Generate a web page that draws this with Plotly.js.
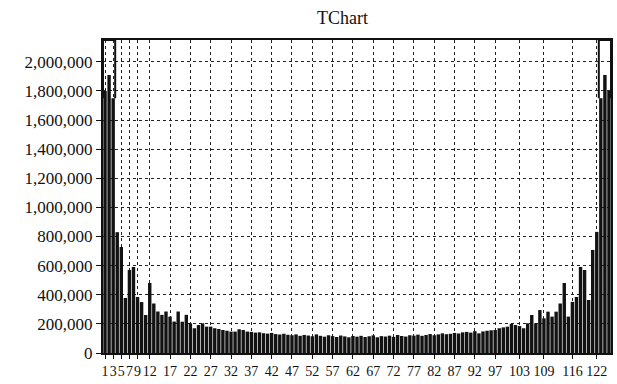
<!DOCTYPE html>
<html>
<head>
<meta charset="utf-8">
<script src="https://cdn.plot.ly/plotly-3.0.1.min.js"></script>
<style>
  html, body { margin: 0; padding: 0; background: #ffffff; }
  #chart { width: 617px; height: 384px; }
</style>
</head>
<body>
<div id="chart"></div>
<script>
// Bin numbers along the x axis
const bins = [
  1, 2, 3, 4, 5, 6, 7, 8, 9, 10, 11, 12, 13, 14, 15, 16, 17, 18, 19, 20,
  21, 22, 23, 24, 25, 26, 27, 28, 29, 30, 31, 32, 33, 34, 35, 36, 37, 38, 39, 40,
  41, 42, 43, 44, 45, 46, 47, 48, 49, 50, 51, 52, 53, 54, 55, 56, 57, 58, 59, 60,
  61, 62, 63, 64, 65, 66, 67, 68, 69, 70, 71, 72, 73, 74, 75, 76, 77, 78, 79, 80,
  81, 82, 83, 84, 85, 86, 87, 88, 89, 90, 91, 92, 93, 94, 95, 96, 97, 98, 99, 100,
  101, 102, 103, 104, 105, 106, 107, 108, 109, 110, 111, 112, 113, 114, 115, 116, 117, 118, 119, 120,
  121, 122, 123, 124, 125
];

// Count per bin
const counts = [
  1800000, 1910000, 1750000, 830000, 728000, 378000, 570000, 591000, 385000, 350000, 261000, 481000,
  340000, 285000, 262000, 285000, 250000, 216000, 285000, 215000, 262000, 204000, 170000, 192000,
  204000, 181000, 181000, 170000, 165000, 158000, 153000, 147000, 147000, 163000, 158000, 147000,
  145000, 140000, 142000, 136000, 133000, 138000, 130000, 127000, 132000, 125000, 122000, 128000,
  118000, 124000, 120000, 115000, 128000, 118000, 112000, 122000, 116000, 110000, 120000, 114000,
  108000, 117000, 112000, 118000, 110000,
  115000, 121000, 108000, 116000, 113000, 119000, 111000, 124000, 117000, 113000, 122000, 119000,
  126000, 118000, 124000, 130000, 122000, 128000, 135000, 129000, 132000, 138000, 134000, 142000,
  145000, 140000, 150000, 135000, 148000, 153000, 156000, 158000, 170000, 176000, 181000,
  200000, 192000, 185000, 170000, 204000, 261000, 204000, 295000, 238000, 284000, 250000, 284000,
  340000, 481000, 250000, 351000, 385000, 591000, 570000, 364000, 708000, 832000, 1750000, 1910000, 1800000
];

// Labelled bins on the x axis
const xTickVals = [1, 3, 5, 7, 9, 12, 17, 22, 27, 32, 37, 42, 47, 52, 57, 62, 67, 72, 77, 82, 87, 92, 97, 103, 109, 116, 122];
const xTickText = xTickVals.map(String);

// y axis ticks
const yTickVals = [0, 200000, 400000, 600000, 800000, 1000000, 1200000, 1400000, 1600000, 1800000, 2000000];
const yTickText = ['0', '200,000', '400,000', '600,000', '800,000', '1,000,000', '1,200,000', '1,400,000', '1,600,000', '1,800,000', '2,000,000'];

const yMax = 2150000;
const serif = '"Liberation Serif", "Times New Roman", serif';

// Open frames (no bottom edge) over the outermost bins at each end
const nEdge = 3;
const edgeFrame = (xs, ys) => {
  const x0 = xs[0] - 0.5, x1 = xs[xs.length - 1] + 0.5;
  const yb = Math.min(...ys);
  return {
    type: 'path', xref: 'x', yref: 'y', layer: 'above',
    path: `M ${x0},${yb} L ${x0},${yMax} L ${x1},${yMax} L ${x1},${yb}`,
    line: { color: '#111', width: 2 }
  };
};

const trace = {
  type: 'bar',
  x: bins,
  y: counts,
  marker: { color: '#121212', line: { width: 0 } },
  hoverinfo: 'x+y'
};

const layout = {
  width: 617,
  height: 384,
  margin: { l: 103, r: 6, t: 40, b: 31 },
  paper_bgcolor: '#ffffff',
  plot_bgcolor: '#ffffff',
  bargap: 0.16,
  showlegend: false,
  title: {
    text: 'TChart',
    font: { family: serif, size: 18, color: '#111' },
    x: 0.555, xanchor: 'center', y: 0.955, yanchor: 'middle'
  },
  xaxis: {
    range: [0.5, bins.length + 0.5],
    tickmode: 'array',
    tickvals: xTickVals,
    ticktext: xTickText,
    tickangle: 0,
    tickfont: { family: serif, size: 14, color: '#111' },
    ticks: 'outside', ticklen: 4, tickcolor: '#111', tickwidth: 1,
    showgrid: true, gridcolor: '#222', griddash: 'dot', gridwidth: 1,
    showline: true, linecolor: '#111', linewidth: 2, mirror: true,
    zeroline: false, fixedrange: true
  },
  yaxis: {
    range: [0, yMax],
    tickmode: 'array',
    tickvals: yTickVals,
    ticktext: yTickText,
    tickfont: { family: serif, size: 17, color: '#111' },
    ticks: 'outside', ticklen: 5, tickcolor: '#111', tickwidth: 1,
    showgrid: true, gridcolor: '#222', griddash: 'dot', gridwidth: 1,
    showline: true, linecolor: '#111', linewidth: 2, mirror: true,
    zeroline: false, fixedrange: true
  },
  shapes: [
    edgeFrame(bins.slice(0, nEdge), counts.slice(0, nEdge)),
    edgeFrame(bins.slice(-nEdge), counts.slice(-nEdge))
  ]
};

Plotly.newPlot('chart', [trace], layout, { displayModeBar: false, staticPlot: true });
</script>
</body>
</html>
